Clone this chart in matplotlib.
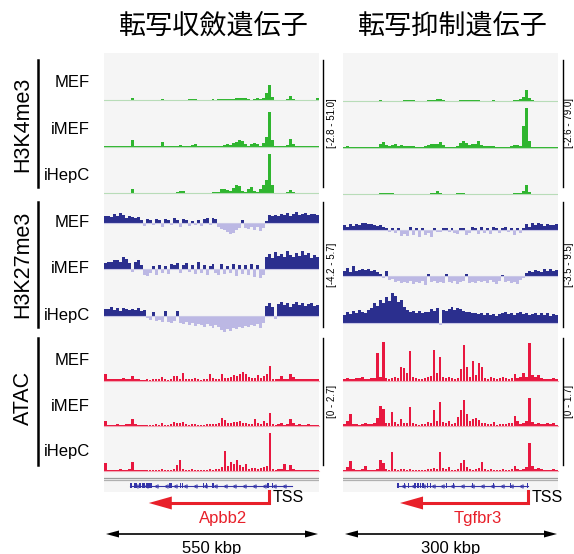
import numpy as np
import matplotlib
matplotlib.use("Agg")
import matplotlib.pyplot as plt

plt.rcParams['font.family'] = ['Liberation Sans', 'Noto Sans CJK JP', 'DejaVu Sans']

# ---- data (72 bins per locus) ----
titles = ["転写収斂遺伝子", "転写抑制遺伝子"]
cells = ["MEF", "iMEF", "iHepC"]
marks = ["H3K4me3", "H3K27me3", "ATAC"]
genes = ["Apbb2", "Tgfbr3"]
spans = ["550 kbp", "300 kbp"]
ranges_left = [(-2.8, 51.0), (-4.2, 5.7), (0, 2.7)]
ranges_right = [(-2.6, 79.0), (-3.5, 9.5), (0, 1.7)]

# H3K4me3, Apbb2 locus
k4_left_mef = [0.5,0.6,0.5,0.6,0.5,0.7,0.5,0.6,0.8,2.2,0.6,0.5,
               0.5,0.6,0.5,0.5,0.7,0.6,0.8,2.0,0.6,0.6,0.8,0.7,
               0.9,1.0,0.8,0.9,1.1,1.2,1.6,0.8,0.6,0.5,0.7,0.9,
               1.2,1.0,1.1,1.3,1.6,1.5,1.7,2.0,2.4,2.8,3.0,2.6,
               1.4,0.9,1.8,2.2,1.6,3.2,8.5,18.0,4.0,0.7,0.6,0.5,
               0.6,1.2,4.5,2.0,0.6,0.5,0.6,0.5,0.6,0.5,0.7,2.2]
k4_left_imef = [0.5,0.6,0.5,0.5,0.6,0.5,0.6,0.7,1.0,7.5,0.8,0.5,
                0.5,0.6,0.5,0.5,0.6,0.6,0.8,5.5,0.7,0.5,0.6,0.7,
                1.5,2.2,0.8,0.7,0.9,2.5,3.0,1.0,0.6,0.5,0.7,0.9,
                1.5,1.2,1.0,1.4,2.0,3.5,2.5,4.5,6.0,8.0,6.5,3.0,
                1.5,3.5,4.5,3.0,1.2,4.0,12.0,40.0,8.0,0.8,0.6,0.5,
                0.6,2.5,9.5,3.0,0.6,0.5,0.6,1.2,0.6,0.5,0.6,0.7]
k4_left_ihepc = [0.5,0.6,0.5,0.6,0.5,0.6,0.7,0.6,1.0,5.5,0.7,0.5,
                 0.5,0.5,0.6,0.5,0.6,0.5,0.6,0.8,0.6,0.5,0.6,0.7,
                 2.0,3.0,2.5,0.8,0.7,0.6,0.9,0.8,0.6,0.5,0.7,1.0,
                 1.2,1.5,2.0,4.5,5.5,4.0,2.5,6.5,9.5,8.0,3.0,2.0,
                 5.0,7.5,3.0,2.0,4.5,9.5,16.0,45.0,10.0,1.0,0.6,0.5,
                 0.6,1.5,4.0,1.8,0.6,0.5,0.6,0.5,0.6,0.5,0.6,0.5]
# H3K4me3, Tgfbr3 locus
k4_right_mef = [1.0,0.8,0.7,0.8,0.9,0.7,0.8,1.0,0.9,0.8,1.0,1.2,
                1.5,1.2,0.9,1.0,1.2,1.0,1.1,1.4,1.6,2.0,2.2,1.6,
                0.9,0.8,1.0,1.2,2.0,2.5,3.0,3.2,3.5,2.0,0.9,0.8,
                0.7,0.9,1.2,1.8,2.5,3.0,2.6,1.8,1.5,2.2,1.4,1.0,
                1.2,1.0,1.5,1.2,0.9,0.8,1.0,1.2,0.9,1.5,2.5,4.5,
                8.0,20.0,6.0,1.5,0.9,0.8,1.0,0.7,0.8,0.9,0.7,0.8]
k4_right_imef = [1.5,3.5,1.2,0.8,0.9,0.8,0.7,0.9,1.0,0.8,0.9,1.2,
                 6.0,9.5,5.0,4.0,4.5,6.5,3.5,5.0,3.0,2.5,3.5,2.8,
                 1.5,1.2,1.8,3.0,5.0,6.0,7.5,6.5,9.5,5.5,1.5,1.2,
                 1.0,1.5,3.0,8.0,12.5,9.0,5.0,6.5,7.5,12.0,5.5,4.0,
                 3.5,3.0,2.5,1.5,1.2,1.0,0.9,1.2,2.5,4.5,5.0,4.0,
                 38.0,70.0,12.0,1.2,1.0,0.8,0.9,1.0,0.8,1.2,0.9,0.8]
k4_right_ihepc = [0.8,0.7,1.0,0.9,0.8,1.2,0.9,0.8,1.0,0.9,1.1,1.2,
                  1.5,1.8,1.6,2.0,1.5,1.2,1.0,0.9,1.1,0.8,0.9,1.0,
                  0.8,0.9,1.0,1.2,1.4,2.0,3.0,6.0,2.0,1.0,0.8,0.9,
                  1.0,1.2,1.5,2.0,1.8,1.2,1.0,0.9,1.2,1.0,0.8,0.9,
                  0.8,0.9,1.0,0.8,0.9,1.0,0.8,0.9,1.2,1.5,2.0,3.0,
                  6.0,16.0,4.0,1.0,0.9,0.8,0.9,0.8,0.8,0.7,0.9,0.8]

# H3K27me3, Apbb2 locus
k27_left_mef = [1.3,1.5,1.2,1.8,1.4,2.0,1.6,1.0,1.3,1.1,0.9,1.2,
                0.6,-0.8,0.7,0.5,-0.6,0.8,0.6,-0.9,0.7,0.5,-0.5,0.9,
                0.6,-1.0,0.8,0.5,-0.7,0.4,-0.6,0.6,-0.8,0.7,0.9,-0.6,
                1.0,0.8,-0.9,-1.3,-1.6,-2.0,-2.5,-2.2,-1.6,-1.2,0.6,-1.1,
                -1.3,-0.9,-1.5,-1.0,-1.8,-1.2,0.4,1.6,1.4,1.7,1.5,1.9,
                1.6,2.0,1.4,1.8,2.2,1.7,1.9,2.1,1.6,1.8,1.9,1.7]
k27_left_imef = [1.2,1.6,1.4,1.9,2.0,1.5,2.6,2.2,1.3,-0.6,1.4,2.0,
                 0.8,-1.3,-1.5,-0.9,0.6,-1.2,0.9,-0.8,0.7,-1.0,1.0,0.8,
                 1.3,-0.9,0.8,1.2,-0.7,0.9,-1.1,1.5,-0.8,0.9,-1.2,0.6,
                 1.1,-0.9,-1.3,1.0,-1.1,0.7,-0.9,1.0,-1.4,0.8,-1.0,0.9,
                 -1.3,1.0,-1.6,0.8,-2.0,-1.2,2.6,3.2,2.4,3.6,2.8,3.3,
                 2.5,3.9,3.0,2.6,3.4,2.7,3.8,2.9,3.5,2.4,3.1,2.6]
k27_left_ihepc = [1.5,1.3,1.8,1.2,1.6,1.0,1.7,1.4,1.1,1.5,1.2,1.6,
                  1.0,1.2,-0.5,-1.0,0.8,-1.2,-0.9,-1.4,1.0,-1.3,-1.6,-1.2,
                  0.9,-1.5,-1.8,-1.4,-2.0,-1.6,-2.2,-1.8,-2.0,-2.4,-1.9,-2.2,
                  -2.6,-2.1,-2.5,-3.0,-3.4,-2.8,-3.2,-2.6,-2.9,-2.4,-2.7,-2.2,
                  -2.5,-2.0,-2.3,-1.8,-2.6,-1.5,2.0,2.6,1.8,-0.8,2.4,2.8,
                  2.2,2.6,1.9,2.5,2.9,2.3,2.7,2.1,2.4,2.6,2.0,2.2]
# H3K27me3, Tgfbr3 locus
k27_right_mef = [1.2,0.9,1.5,1.0,1.6,1.4,1.8,2.0,1.5,1.7,1.3,1.1,
                 1.2,0.9,0.6,-0.5,0.4,-1.0,0.5,-1.8,-1.2,-1.6,0.9,-1.4,
                 0.6,-1.9,0.5,-1.5,-1.0,-2.0,0.4,-0.7,-0.5,0.6,0.5,-0.6,
                 0.5,-1.0,-1.2,0.6,0.4,-1.4,-0.9,0.7,0.5,-1.1,0.9,-0.8,
                 0.6,-1.2,0.7,0.5,-0.9,0.6,0.8,-0.7,0.5,-1.4,0.4,-1.0,
                 0.6,1.5,0.9,2.0,1.2,1.8,1.5,1.1,1.7,1.4,1.2,1.6]
k27_right_imef = [1.6,2.4,1.2,2.8,1.5,1.8,2.0,1.7,1.9,1.6,1.8,1.3,
                  0.7,-0.6,1.5,-1.0,-0.8,-1.6,-1.2,-2.0,-1.5,-1.8,-1.3,-2.2,
                  -1.6,-1.9,-1.4,-2.3,0.6,-1.7,-1.3,-2.0,-1.5,-1.8,0.5,-1.6,
                  -1.9,-1.4,-2.1,-1.6,-1.3,0.5,-1.8,-1.5,-2.0,-1.2,-1.7,-1.4,
                  -1.8,-1.1,-1.6,-2.1,-1.3,0.4,-1.7,-1.4,-1.9,-1.5,-2.2,-1.0,
                  -0.6,0.8,1.4,1.2,1.8,1.5,1.3,1.9,1.6,2.0,1.4,1.7]
k27_right_ihepc = [2.2,3.0,2.5,3.4,2.8,3.6,3.1,2.7,3.5,4.2,5.5,4.8,
                   6.5,5.6,7.2,6.0,8.2,7.5,5.8,6.4,4.5,3.6,3.0,3.4,
                   2.8,3.2,2.6,3.0,2.9,3.8,3.3,4.0,-0.6,3.5,3.2,3.9,
                   4.5,3.6,4.2,3.8,3.4,2.9,3.1,2.6,2.8,2.4,2.7,2.3,
                   2.6,2.2,2.5,2.0,2.4,2.7,2.9,2.5,2.8,2.3,2.6,2.9,
                   2.4,2.7,2.2,2.5,2.8,2.1,2.6,2.3,2.7,2.0,2.4,2.2]

# ATAC, Apbb2 locus
atac_left_mef = [0.40,0.12,0.08,0.10,0.12,0.08,0.15,0.10,0.12,0.30,0.10,0.08,
                 0.06,0.05,0.08,0.06,0.10,0.08,0.12,0.20,0.08,0.06,0.10,0.28,
                 0.30,0.10,0.45,0.12,0.08,0.10,0.15,0.08,0.06,0.10,0.08,0.42,
                 0.15,0.10,0.12,0.40,0.15,0.18,0.22,0.35,0.30,0.42,0.50,0.38,
                 0.20,0.15,0.18,0.32,0.15,0.25,0.40,0.88,0.12,0.08,0.10,0.30,
                 0.10,0.12,0.42,0.20,0.10,0.12,0.10,0.08,0.12,0.10,0.08,0.10]
atac_left_imef = [0.30,0.08,0.06,0.08,0.10,0.06,0.08,0.10,0.12,0.42,0.10,0.06,
                  0.05,0.06,0.05,0.08,0.06,0.10,0.08,0.15,0.06,0.08,0.10,0.22,
                  0.20,0.15,0.25,0.10,0.08,0.10,0.12,0.08,0.06,0.08,0.10,0.12,
                  0.10,0.12,0.15,0.50,0.38,0.20,0.18,0.25,0.22,0.30,0.20,0.15,
                  0.12,0.10,0.40,0.15,0.12,0.30,0.15,0.75,0.10,0.08,0.12,0.18,
                  0.08,0.10,0.43,0.15,0.08,0.10,0.08,0.06,0.10,0.08,0.06,0.08]
atac_left_ihepc = [0.50,0.10,0.08,0.06,0.10,0.12,0.08,0.10,0.12,0.52,0.10,0.08,
                   0.05,0.06,0.08,0.06,0.08,0.06,0.10,0.12,0.08,0.06,0.10,0.12,
                   0.35,0.64,0.15,0.10,0.08,0.12,0.10,0.08,0.06,0.08,0.10,0.12,
                   0.10,0.15,0.12,0.25,1.18,0.30,0.55,0.45,0.68,0.35,0.25,0.40,
                   0.15,0.20,0.18,0.12,0.22,0.25,0.30,2.30,0.15,0.10,0.12,0.12,
                   0.40,0.08,0.35,0.12,0.08,0.10,0.08,0.06,0.08,0.10,0.06,0.08]
# ATAC, Tgfbr3 locus
atac_right_mef = [0.06,0.08,0.05,0.06,0.10,0.08,0.12,0.06,0.05,0.08,0.10,1.04,
                  0.15,1.44,0.10,0.06,0.08,0.12,0.08,0.51,0.46,0.30,1.11,0.15,
                  0.08,0.06,0.05,0.08,0.15,0.18,1.13,0.30,0.90,0.15,0.10,0.12,
                  0.08,0.06,0.10,0.45,1.32,0.50,0.12,0.74,0.20,0.67,0.52,0.10,
                  0.06,0.15,0.08,0.05,0.10,0.12,0.08,0.06,0.10,0.25,0.10,0.12,
                  0.30,0.15,1.40,0.20,0.12,0.20,0.08,0.06,0.05,0.06,0.10,0.06]
atac_right_imef = [0.08,0.18,0.43,0.08,0.06,0.05,0.08,0.12,0.06,0.08,0.10,0.30,
                   0.76,0.63,0.12,0.10,0.51,0.15,0.08,0.25,0.12,0.10,0.70,0.10,
                   0.06,0.05,0.08,0.06,0.15,0.12,0.59,0.20,0.88,0.15,0.10,0.20,
                   0.08,0.12,0.35,0.61,0.98,0.45,0.20,0.25,0.30,0.22,0.12,0.10,
                   0.08,0.06,0.15,0.05,0.06,0.08,0.06,0.10,0.12,0.37,0.20,0.08,
                   0.10,0.20,1.04,0.15,0.08,0.12,0.06,0.08,0.12,0.06,0.10,0.05]
atac_right_ihepc = [0.06,0.15,0.37,0.08,0.06,0.05,0.08,0.18,0.06,0.05,0.06,0.10,
                    0.43,0.30,0.08,0.06,0.73,0.10,0.06,0.10,0.08,0.06,0.08,0.05,
                    0.04,0.05,0.06,0.05,0.10,0.08,0.12,0.10,0.71,0.12,0.08,0.15,
                    0.06,0.05,0.08,0.30,0.43,0.15,0.08,0.06,0.10,0.12,0.34,0.10,
                    0.06,0.10,0.05,0.06,0.05,0.08,0.06,0.05,0.10,0.18,0.10,0.06,
                    0.08,0.15,1.07,0.20,0.10,0.12,0.08,0.06,0.05,0.06,0.08,0.05]

# gene models (bin coordinates): span, exons, TSS, arrow end
apbb2_span = (8.7, 62.9)
apbb2_exons = [(8.7,9.5),(10.2,11.2),(11.6,12.4),(12.8,13.6),(14.0,16.0),(21.8,22.3),
               (22.5,22.9),(25.5,25.9),(26.2,26.6),(33.0,33.4),(34.0,34.4),(36.3,36.7),
               (54.7,55.1),(56.3,56.6)]
apbb2_tss = 55.2
apbb2_arrow_end = 15.0
tgfbr3_span = (18.1, 62.0)
tgfbr3_exons = [(18.1,18.9),(20.5,20.9),(21.6,22.0),(23.8,24.3),(24.8,25.3),(25.7,26.2),
                (26.5,27.0),(28.0,28.4),(29.0,29.5),(34.4,34.7),(36.8,37.1),(43.2,43.5),
                (44.4,44.7),(50.2,50.5),(56.0,56.3),(57.1,57.4),(61.6,62.0)]
tgfbr3_tss = 61.9
tgfbr3_arrow_end = 19.1

n_bins = 72
W, H = 574, 554

green = '#2fb52f'
navy = '#2b2f8e'
lavender = '#bcb8e4'
crimson = '#e8173f'
gene_blue = '#3434a8'
red = '#e8202a'

fig = plt.figure(figsize=(W / 100, H / 100), dpi=100)


def px_axes(x0, y0, w, h):
    return fig.add_axes([x0 / W, 1 - (y0 + h) / H, w / W, h / H])


panel_x = [104, 343]
panel_w = 215
panel_top, panel_bottom = 53, 492
track_tops = [56.3, 102.8, 149.3, 195.8, 242.3, 288.8, 335.3, 380.6, 425.9]
track_h = [46.5] * 6 + [45.3] * 3

tracks = [
    [k4_left_mef, k4_left_imef, k4_left_ihepc, k27_left_mef, k27_left_imef, k27_left_ihepc,
     atac_left_mef, atac_left_imef, atac_left_ihepc],
    [k4_right_mef, k4_right_imef, k4_right_ihepc, k27_right_mef, k27_right_imef, k27_right_ihepc,
     atac_right_mef, atac_right_imef, atac_right_ihepc],
]
ranges = [ranges_left, ranges_right]

# faint band behind the titles
band = px_axes(65, 8, 509, 45)
band.set_facecolor('#fafafa')
band.axis('off')
band.patch.set_visible(True)

# grey panels behind the tracks
for px in panel_x:
    bg = px_axes(px, panel_top, panel_w, panel_bottom - panel_top)
    bg.set_facecolor('#f5f5f5')
    bg.set_xticks([])
    bg.set_yticks([])
    for s in bg.spines.values():
        s.set_visible(False)

x = np.arange(n_bins)
for side in range(2):
    for t in range(9):
        ax = px_axes(panel_x[side], track_tops[t], panel_w, track_h[t])
        ax.set_facecolor('none')
        ax.axis('off')
        lo, hi = ranges[side][t // 3]
        ax.set_xlim(0, n_bins)
        ax.set_ylim(lo, hi)
        v = np.array(tracks[side][t])
        if t < 3:
            ax.bar(x, v, width=1.0, align='edge', color=green, linewidth=0)
            ax.axhline(0, color='#b8dcb8', lw=0.8)
        elif t < 6:
            ax.bar(x, np.where(v > 0, v, 0), width=1.0, align='edge', color=navy, linewidth=0)
            ax.bar(x, np.where(v < 0, v, 0), width=1.0, align='edge', color=lavender, linewidth=0)
            ax.axhline(0, color='#c9c7e6', lw=0.8)
        else:
            ax.bar(x + 0.1, v, width=0.8, align='edge', color=crimson, linewidth=0)
            ax.axhline(0, color='#f2a6b4', lw=0.8, clip_on=False)

# gene track
gene_sets = [(apbb2_span, apbb2_exons), (tgfbr3_span, tgfbr3_exons)]
for side in range(2):
    ax = px_axes(panel_x[side], 474, panel_w, 18)
    ax.set_facecolor('none')
    ax.axis('off')
    ax.set_xlim(0, n_bins)
    ax.set_ylim(18, 0)
    ax.axhline(3.5, color='#9c9c9c', lw=0.9)
    ax.axhline(6.0, color='#b0b0b0', lw=0.9)
    span, exons = gene_sets[side]
    ax.plot(span, [12, 12], color=gene_blue, lw=0.8)
    for a, b in exons:
        ax.fill_between([a, b], 9.5, 14.5, color=gene_blue, linewidth=0)
    chev = np.arange(span[0] + 2.0, span[1] - 0.5, 3.3)
    ax.plot(chev, np.full(len(chev), 12), linestyle='none', marker='<',
            markersize=2.5, color=gene_blue, markerfacecolor='none', markeredgewidth=0.6)

# overlay in pixel coordinates for text, brackets and arrows
ov = fig.add_axes([0, 0, 1, 1])
ov.set_xlim(0, W)
ov.set_ylim(H, 0)
ov.axis('off')
ov.set_facecolor('none')

title_x = [214, 453]
for side in range(2):
    ov.text(title_x[side], 27, titles[side], fontsize=19.5, ha='center', va='center',
            family=['Noto Sans CJK JP', 'DejaVu Sans'])

group_spans = [(60, 187), (202, 327), (338, 465)]
group_mid = [124, 264, 398]
for g in range(3):
    y0, y1 = group_spans[g]
    ov.plot([38, 38], [y0, y1], color='black', lw=1.8)
    ov.text(23, group_mid[g], marks[g], fontsize=15.5, rotation=90, ha='center', va='center')
    for c in range(3):
        t = g * 3 + c
        ov.text(90, track_tops[t] + track_h[t] / 2 + 3, cells[c], fontsize=12,
                ha='right', va='center')
    for side, bx in enumerate([323, 563]):
        ov.plot([bx, bx], [y0, y1], color='black', lw=1.0)
        lo, hi = ranges[side][g]
        lab = "[%s - %s]" % (("%g" % lo) if lo == 0 else "%.1f" % lo, "%.1f" % hi)
        ov.text(bx + (9 if side == 0 else 6.5), (y0 + y1) / 2, lab, fontsize=7,
                rotation=90, ha='center', va='center')


def bin_to_px(side, b):
    return panel_x[side] + b / n_bins * panel_w


# TSS arrows and gene names
tss = [apbb2_tss, tgfbr3_tss]
arrow_end = [apbb2_arrow_end, tgfbr3_arrow_end]
for side in range(2):
    xt = bin_to_px(side, tss[side])
    xe = bin_to_px(side, arrow_end[side])
    ov.plot([xt, xt, xe + 20], [491, 503, 503], color=red, lw=2.2, solid_joinstyle='miter')
    ov.fill([xe, xe + 23, xe + 23], [503, 496.5, 509.5], color=red, linewidth=0)
    ov.text(xt + 4, 497, "TSS", fontsize=11.5, ha='left', va='center')
    ov.text((xt + xe) / 2 + 14, 518, genes[side], fontsize=12, color=red, ha='center', va='center')

    # scale bar
    x0 = panel_x[side] + 2
    x1 = panel_x[side] + panel_w - 1
    ov.plot([x0 + 10, x1 - 10], [534, 534], color='black', lw=1.2)
    ov.fill([x0, x0 + 13, x0 + 13], [534, 530.5, 537.5], color='black', linewidth=0)
    ov.fill([x1, x1 - 13, x1 - 13], [534, 530.5, 537.5], color='black', linewidth=0)
    ov.text((x0 + x1) / 2, 548, spans[side], fontsize=12, ha='center', va='center')

fig.savefig("out.png", dpi=100)
